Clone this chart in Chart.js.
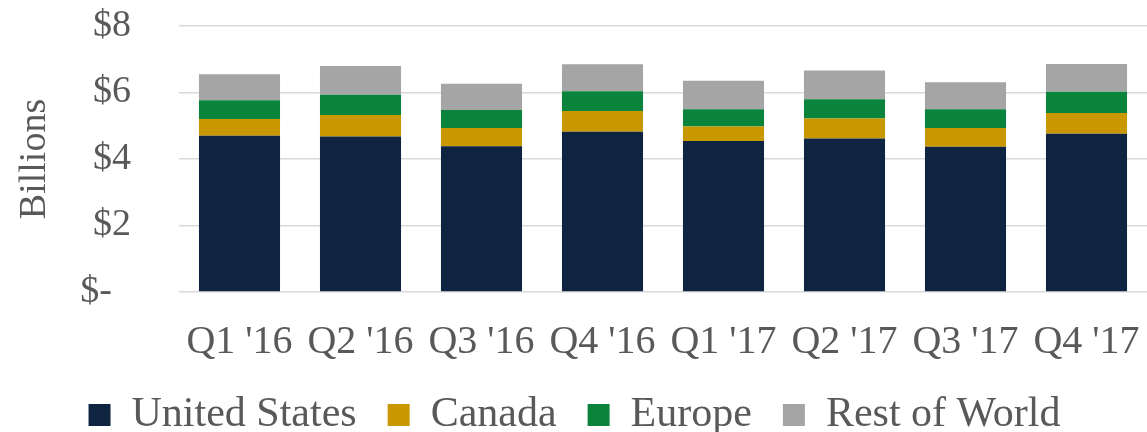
<!DOCTYPE html>
<html>
<head>
<meta charset="utf-8">
<script src="https://cdn.jsdelivr.net/npm/chart.js@4/dist/chart.umd.min.js"></script>
<style>
  html, body { margin: 0; padding: 0; background: #fff; }
  #wrap { width: 1147px; height: 432px; position: relative; }
</style>
</head>
<body>
<div id="wrap"><canvas id="revenue_chart"></canvas></div>
<script>
// quarterly revenue by region, $ billions
const quarters = ["Q1 '16", "Q2 '16", "Q3 '16", "Q4 '16", "Q1 '17", "Q2 '17", "Q3 '17", "Q4 '17"];
const unitedStates = [4.70, 4.68, 4.38, 4.82, 4.54, 4.62, 4.37, 4.76];
const canada = [0.50, 0.64, 0.55, 0.62, 0.44, 0.60, 0.56, 0.62];
const europe = [0.57, 0.61, 0.54, 0.60, 0.52, 0.58, 0.57, 0.64];
const restOfWorld = [0.78, 0.87, 0.79, 0.81, 0.85, 0.86, 0.81, 0.84];
const yTicks = [0, 2, 4, 6, 8];

const textColor = "#595959";
const serif = "'Liberation Serif', 'DejaVu Serif', serif";

Chart.defaults.font.family = serif;
Chart.defaults.color = textColor;

function series(label, data, color) {
    return {
        label: label,
        data: data,
        backgroundColor: color,
        borderWidth: 0,
        barPercentage: 0.67,
        categoryPercentage: 1
    };
}

new Chart("revenue_chart", {
    type: "bar",
    data: {
        labels: quarters,
        datasets: [
            series("United States", unitedStates, "#0E2441"),
            series("Canada", canada, "#C99700"),
            series("Europe", europe, "#0A843D"),
            series("Rest of World", restOfWorld, "#A5A5A5")
        ]
    },
    options: {
        responsive: true,
        maintainAspectRatio: false,
        animation: false,
        layout: { padding: { top: 26, right: -2, bottom: 0, left: 0 } },
        plugins: {
            tooltip: { enabled: false },
            legend: {
                position: "bottom",
                maxHeight: 69,
                labels: {
                    font: { size: 42 },
                    boxWidth: 22,
                    boxHeight: 22,
                    padding: 31,
                    color: textColor
                }
            }
        },
        scales: {
            x: {
                stacked: true,
                afterFit: (scale) => {
                    // tall enough that the label descenders are not clipped
                    scale.height = 71;
                    scale.paddingLeft = 0;
                    scale.paddingRight = 0;
                },
                grid: { display: false, drawTicks: false },
                border: { display: false },
                ticks: {
                    font: { size: 40 },
                    maxRotation: 0,
                    autoSkip: false,
                    padding: 26
                }
            },
            y: {
                stacked: true,
                min: 0,
                max: 8,
                afterBuildTicks: (scale) => { scale.ticks = yTicks.map(v => ({ value: v })); },
                afterFit: (scale) => {
                    // fixed axis width; labels may hang over the plot edges
                    scale.width = 179;
                    scale.paddingTop = 0;
                    scale.paddingBottom = 0;
                },
                grid: { color: "#D9D9D9", lineWidth: 1.5, drawTicks: false },
                border: { display: false },
                ticks: {
                    font: { size: 38 },
                    padding: 48,
                    autoSkip: false,
                    callback: (v) => v === 0 ? "$-  " : "$" + v
                },
                title: {
                    display: true,
                    text: "Billions",
                    font: { size: 38 },
                    color: textColor,
                    padding: { top: 12, bottom: 0 }
                }
            }
        }
    }
});
</script>
</body>
</html>
